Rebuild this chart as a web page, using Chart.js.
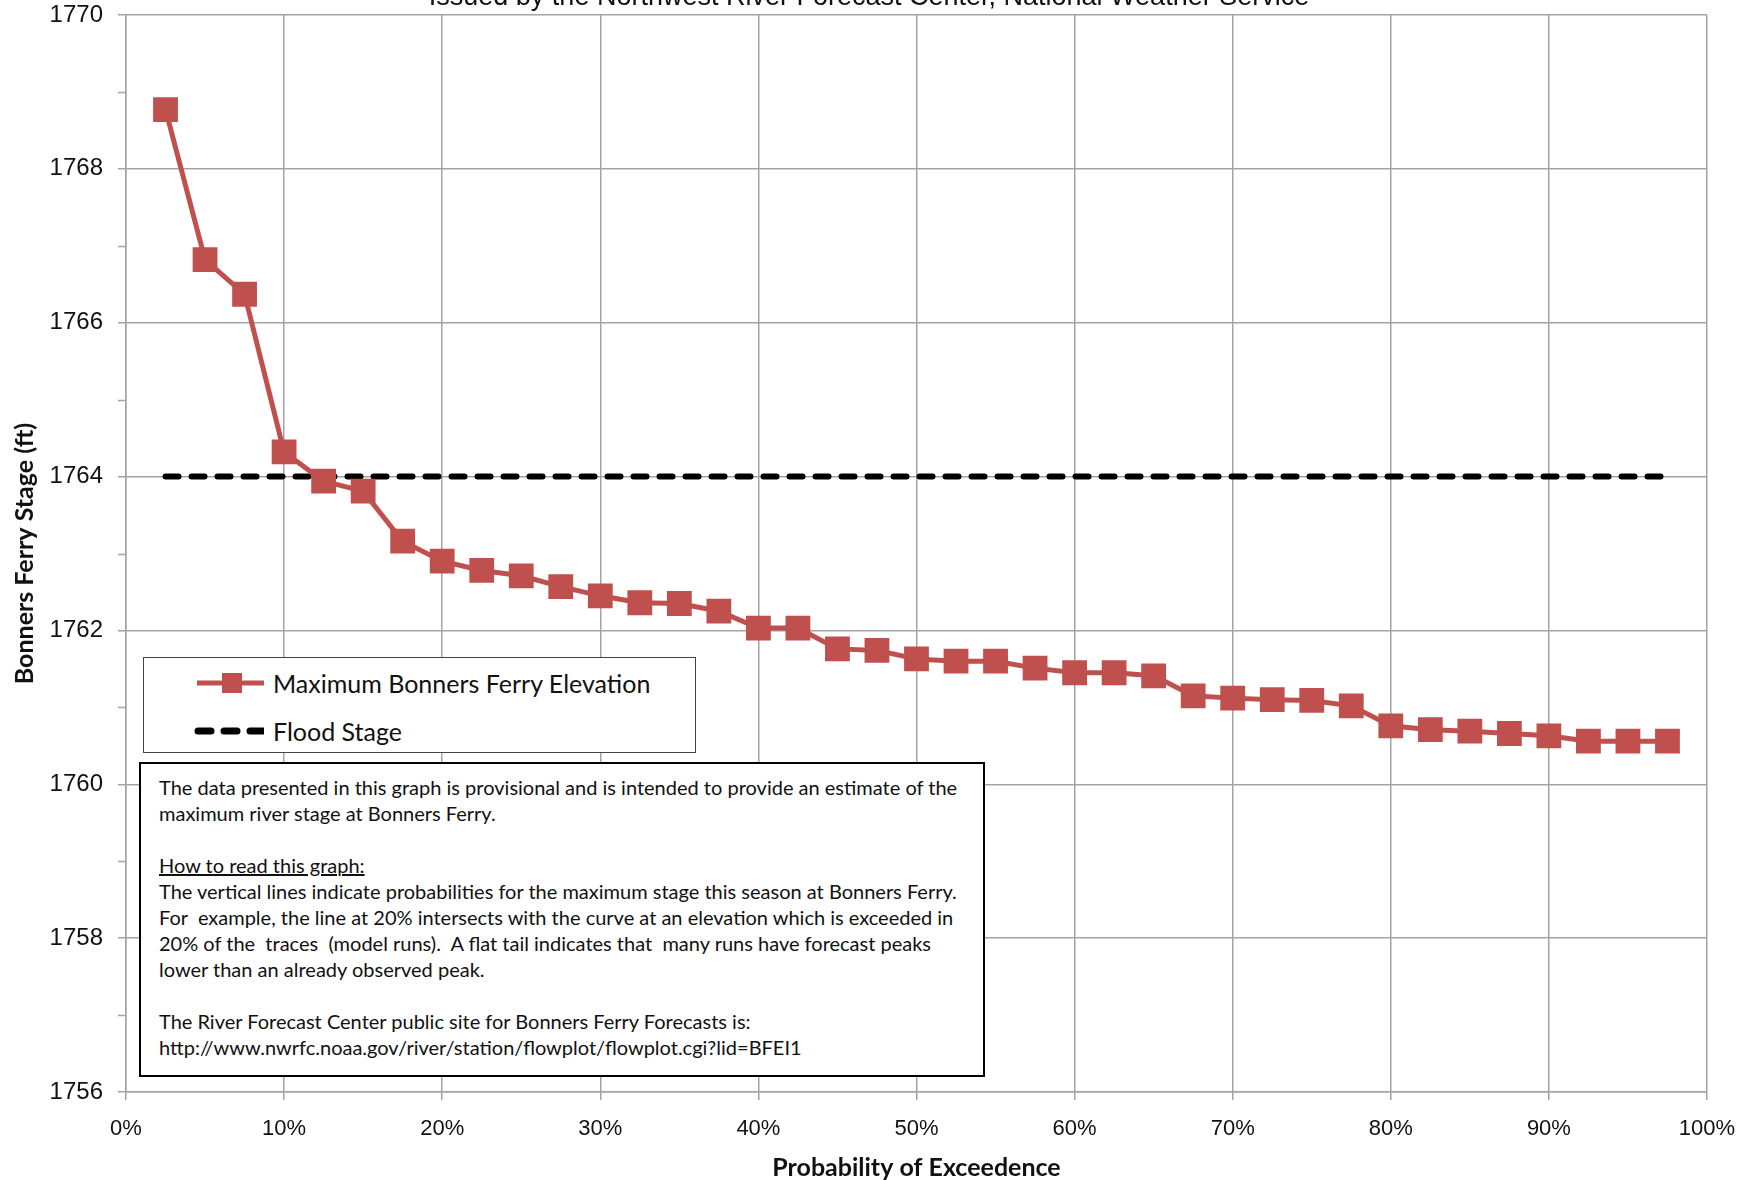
<!DOCTYPE html>
<html>
<head>
<meta charset="utf-8">
<script src="https://cdn.jsdelivr.net/npm/chart.js@4.4.1/dist/chart.umd.min.js"></script>
<style>
  body { margin: 0; background: #fff; }
  #wrap { position: relative; width: 1747px; height: 1180px; overflow: hidden; font-family: Lato, sans-serif; }
  #chart { position: absolute; left: 0; top: -4px; }
  #topTitle { position: absolute; left: 0; width: 1738px; top: -19px; text-align: center; font: 27px "Liberation Sans", Arial, sans-serif; color: #111; }
  #legendBox { position: absolute; left: 143px; top: 657px; width: 551px; height: 94px; border: 1.5px solid #444; background: #fff; }
  .legRow { position: absolute; left: 0; height: 30px; width: 100%; }
  .legRow svg { position: absolute; left: 30px; top: 0; }
  .legRow span { position: absolute; left: 129px; top: 0; line-height: 30px; font-size: 25px; color: #111; }
  #noteBox { position: absolute; left: 139px; top: 762px; border: 2px solid #000; background: #fff; padding: 10px 0 0 18px; box-sizing: border-box; width: 846px; height: 315px; }
  #noteBox div { font-size: 20px; line-height: 26px; height: 26px; white-space: nowrap; color: #111; }
</style>
</head>
<body>
<div id="wrap">
  <canvas id="chart" width="1747" height="1184"></canvas>
  <div id="topTitle">Issued by the Northwest River Forecast Center, National Weather Service</div>
  <div id="legendBox">
    <div class="legRow" style="top:10px">
      <svg width="90" height="30"><line x1="23" y1="15" x2="92" y2="15" stroke="#C0504D" stroke-width="5"/><rect x="48" y="5" width="20" height="20" fill="#C0504D"/></svg>
      <span>Maximum Bonners Ferry Elevation</span>
    </div>
    <div class="legRow" style="top:58px">
      <svg width="90" height="30"><line x1="24" y1="15" x2="90" y2="15" stroke="#000" stroke-width="7" stroke-linecap="round" stroke-dasharray="13 13"/></svg>
      <span>Flood Stage</span>
    </div>
  </div>
  <div id="noteBox">
    <div>The data presented in this graph is provisional and is intended to provide an estimate of the</div>
    <div>maximum river stage at Bonners Ferry.</div>
    <div></div>
    <div><u>How to read this graph:</u></div>
    <div>The vertical lines indicate probabilities for the maximum stage this season at Bonners Ferry.</div>
    <div>For&nbsp; example, the line at 20% intersects with the curve at an elevation which is exceeded in</div>
    <div>20% of the&nbsp; traces&nbsp; (model runs).&nbsp; A flat tail indicates that&nbsp; many runs have forecast peaks</div>
    <div>lower than an already observed peak.</div>
    <div></div>
    <div>The River Forecast Center public site for Bonners Ferry Forecasts is:</div>
    <div>http://www.nwrfc.noaa.gov/river/station/flowplot/flowplot.cgi?lid=BFEI1</div>
  </div>
</div>
<script>
// probability of exceedence (%) for each trace
const probabilities = [2.5, 5, 7.5, 10, 12.5, 15, 17.5, 20, 22.5, 25, 27.5, 30, 32.5, 35, 37.5, 40,
  42.5, 45, 47.5, 50, 52.5, 55, 57.5, 60, 62.5, 65, 67.5, 70, 72.5, 75, 77.5, 80, 82.5, 85, 87.5,
  90, 92.5, 95, 97.5];

// maximum Bonners Ferry elevation (ft)
const maxElevation = [1768.77, 1766.82, 1766.37, 1764.32, 1763.94, 1763.81, 1763.16, 1762.90, 1762.78,
  1762.71, 1762.57, 1762.45, 1762.36, 1762.35, 1762.25, 1762.03, 1762.03, 1761.76, 1761.74, 1761.63,
  1761.60, 1761.60, 1761.51, 1761.45, 1761.45, 1761.41, 1761.15, 1761.12, 1761.10, 1761.09, 1761.02,
  1760.76, 1760.71, 1760.69, 1760.66, 1760.63, 1760.56, 1760.56, 1760.56];

// flood stage line
const floodX = [2.5, 97.5];
const floodStage = [1764, 1764];

const xTicks = [0, 10, 20, 30, 40, 50, 60, 70, 80, 90, 100];
const yTicks = [1756, 1758, 1760, 1762, 1764, 1766, 1768, 1770];
const yMinorTicks = [1757, 1759, 1761, 1763, 1765, 1767, 1769];

const gridColor = '#a3a3a3';

// short tick marks at the odd feet on the left axis
const minorTicks = {
  id: 'minorTicks',
  afterDraw(chart) {
    const ctx = chart.ctx;
    const y = chart.scales.y;
    ctx.save();
    ctx.strokeStyle = gridColor;
    ctx.lineWidth = 1.5;
    yMinorTicks.forEach(v => {
      const py = Math.round(y.getPixelForValue(v)) + 0.5;
      ctx.beginPath();
      ctx.moveTo(y.right - 8, py);
      ctx.lineTo(y.right, py);
      ctx.stroke();
    });
    ctx.restore();
  }
};

new Chart(document.getElementById('chart'), {
  type: 'scatter',
  data: {
    datasets: [{
      label: 'Maximum Bonners Ferry Elevation',
      data: probabilities.map((p, i) => ({ x: p, y: maxElevation[i] })),
      showLine: true,
      borderColor: '#C0504D',
      backgroundColor: '#C0504D',
      borderWidth: 5,
      pointStyle: 'rect',
      pointRadius: 14,
      pointHoverRadius: 14,
      order: 1
    }, {
      label: 'Flood Stage',
      data: floodX.map((p, i) => ({ x: p, y: floodStage[i] })),
      showLine: true,
      borderColor: '#000',
      borderWidth: 6,
      borderDash: [13, 13],
      borderCapStyle: 'round',
      pointRadius: 0,
      order: 2
    }]
  },
  options: {
    responsive: false,
    animation: false,
    layout: { padding: { left: 0, top: 13, right: 40, bottom: 0 } },
    plugins: { legend: { display: false }, tooltip: { enabled: false } },
    scales: {
      x: {
        type: 'linear', min: 0, max: 100,
        afterBuildTicks: s => { s.ticks = xTicks.map(v => ({ value: v })); },
        afterFit: s => { s.height = 88; s.paddingLeft = 0; s.paddingRight = 0; },
        grid: { color: gridColor, lineWidth: 1.5, tickLength: 8 },
        border: { color: gridColor, width: 1.5 },
        ticks: { color: '#111', font: { family: 'Liberation Sans', size: 22 }, padding: 16, callback: v => v + '%', maxRotation: 0 },
        title: { display: true, text: 'Probability of Exceedence', color: '#111', font: { family: 'Lato', size: 25, weight: 'bold' }, padding: { top: 0, bottom: -3 } }
      },
      y: {
        type: 'linear', min: 1756, max: 1770,
        afterBuildTicks: s => { s.ticks = yTicks.map(v => ({ value: v })); },
        afterFit: s => { s.width = 126; s.paddingTop = 0; s.paddingBottom = 0; },
        grid: { color: gridColor, lineWidth: 1.5, tickLength: 8 },
        border: { color: gridColor, width: 1.5 },
        ticks: { color: '#111', font: { family: 'Liberation Sans', size: 24 }, padding: 15, callback: v => String(v) },
        title: { display: true, text: 'Bonners Ferry Stage (ft)', color: '#111', font: { family: 'Lato', size: 25, weight: 'bold' }, padding: { top: 10, bottom: 0 } }
      }
    }
  },
  plugins: [minorTicks]
});
</script>
</body>
</html>
